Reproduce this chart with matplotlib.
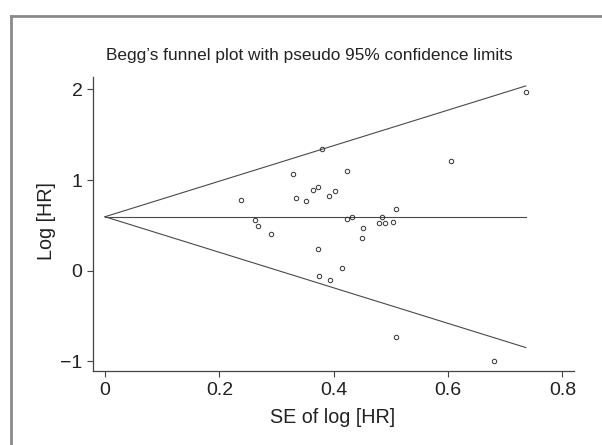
import numpy as np
import matplotlib
matplotlib.use('Agg')
import matplotlib.pyplot as plt
from matplotlib.lines import Line2D

plt.rcParams['font.family'] = ['Liberation Sans', 'DejaVu Sans']

# Study data
se_log_hr = [0.238, 0.263, 0.268, 0.290, 0.329, 0.334, 0.351, 0.364, 0.372, 0.373,
             0.375, 0.380, 0.392, 0.394, 0.402, 0.415, 0.424, 0.424, 0.432, 0.449,
             0.451, 0.479, 0.485, 0.490, 0.504, 0.509, 0.509, 0.606, 0.681, 0.736]
log_hr = [0.780, 0.555, 0.493, 0.408, 1.063, 0.805, 0.768, 0.890, 0.923, 0.243,
          -0.055, 1.345, 0.824, -0.099, 0.882, 0.033, 1.103, 0.573, 0.592, 0.357,
          0.467, 0.523, 0.592, 0.523, 0.540, 0.680, -0.731, 1.209, -0.992, 1.974]
pooled = 0.595
x_ticks = [0, 0.2, 0.4, 0.6, 0.8]
x_tick_labels = ['0', '0.2', '0.4', '0.6', '0.8']
y_ticks = [-1, 0, 1, 2]

fig = plt.figure(figsize=(6.02, 4.45), dpi=100)
ax = fig.add_axes([0.155, 0.1663, 0.7985, 0.6613])

# pseudo 95% limits
se_line = np.array([0, max(se_log_hr)])
line_col = '#4a4a4a'
ax.plot(se_line, pooled + 1.96 * se_line, color=line_col, lw=0.8)
ax.plot(se_line, pooled - 1.96 * se_line, color=line_col, lw=0.8)
ax.plot(se_line, [pooled, pooled], color=line_col, lw=0.8)

ax.plot(se_log_hr, log_hr, 'o', ms=3.2, mfc='none', mec='#333333', mew=0.7)

ax.set_xlim(-0.0204, 0.8203)
ax.set_ylim(-1.106, 2.139)
ax.set_xticks(x_ticks)
ax.set_xticklabels(x_tick_labels)
ax.set_yticks(y_ticks)

for s in ['top', 'right']:
    ax.spines[s].set_visible(False)
for s in ['left', 'bottom']:
    ax.spines[s].set_color('#444444')
    ax.spines[s].set_linewidth(0.9)
ax.tick_params(direction='out', length=4.3, width=0.8, color='#444444',
               labelsize=14, labelcolor='#222222', pad=3.5)

fig.text(0.5136, 0.865, 'Begg\u2019s funnel plot with pseudo 95% confidence limits',
         ha='center', va='baseline', fontsize=12.4, color='#222222')
fig.text(0.553, 0.0488, 'SE of log [HR]', ha='center', va='baseline',
         fontsize=14.2, color='#222222')
fig.text(0.0776, 0.5022, 'Log [HR]', ha='center', va='center', rotation=90,
         fontsize=14.2, color='#222222')

# grey panel border (left and top)
fig.add_artist(Line2D([0.0188, 0.0188], [0, 0.965], color='#8a8a8a', lw=2,
                      transform=fig.transFigure))
fig.add_artist(Line2D([0.0188, 1], [0.965, 0.965], color='#8a8a8a', lw=2,
                      transform=fig.transFigure))

fig.savefig('out.png', dpi=100)
